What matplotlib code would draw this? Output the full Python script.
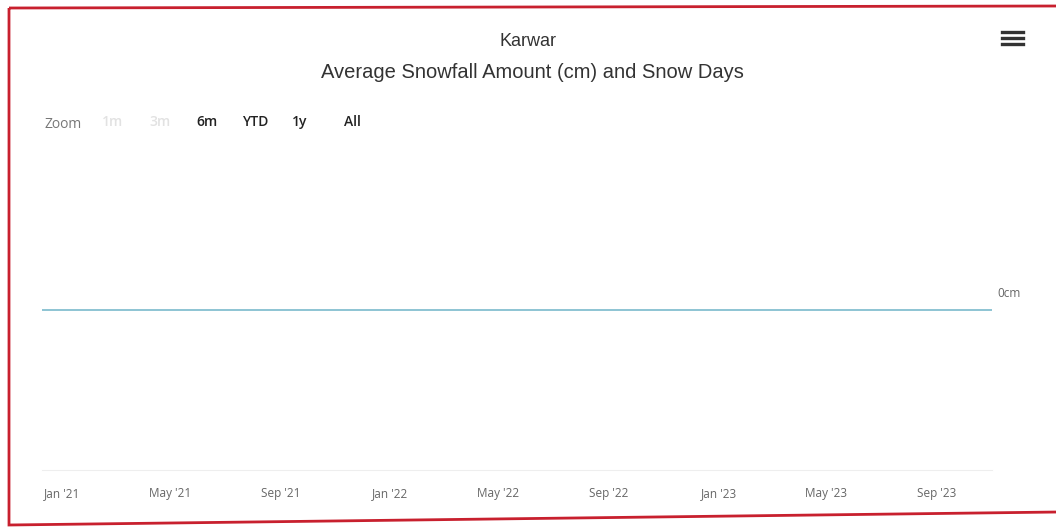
import matplotlib.pyplot as plt
from matplotlib.patches import Polygon
from matplotlib.lines import Line2D
import pandas as pd

# -------------------- data --------------------
months = pd.date_range("2020-12-01", "2023-11-01", freq="MS")
snowfall_cm = [0] * len(months)
tick_dates = pd.date_range("2021-01-01", "2023-09-01", freq="4MS")
tick_labels = ["Jan '21", "May '21", "Sep '21", "Jan '22", "May '22",
               "Sep '22", "Jan '23", "May '23", "Sep '23"]
zoom_buttons = ["1m", "3m", "6m", "YTD", "1y", "All"]
zoom_x = [113, 160, 207, 255, 300, 352]
zoom_enabled = [False, False, True, True, True, True]

W, H = 1056, 531
fig = plt.figure(figsize=(W / 100, H / 100), dpi=100)
fig.patch.set_facecolor("white")

def px(x, y):
    return x / W, 1 - y / H

# plot area
left, right, top, bottom = 42, 992, 150, 470
ax = fig.add_axes([left / W, 1 - bottom / H, (right - left) / W, (bottom - top) / H])
ax.plot(months, snowfall_cm, color="#6fb4c8", lw=1.1)
ax.set_ylim(-1, 1)
ax.set_xlim(pd.Timestamp("2020-12-10"), months[-1])
ax.set_yticks([])
ax.set_xticks(tick_dates)
ax.set_xticklabels(tick_labels, family="Open Sans", fontsize=8.5, color="#666666")
ax.tick_params(axis="x", length=0, pad=12)
for s in ["top", "left", "right"]:
    ax.spines[s].set_visible(False)
ax.spines["bottom"].set_color("#eeeeee")
fig.text(*px(997, 300), "0cm", ha="left", va="bottom",
         family="Open Sans", fontsize=8.5, color="#666666")

# titles
fig.text(*px(528, 42), "Karwar", ha="center", va="center",
         family="Liberation Sans", fontsize=13, color="#333333")
fig.text(*px(532, 72), "Average Snowfall Amount (cm) and Snow Days", ha="center", va="center",
         family="Liberation Sans", fontsize=14.5, color="#333333")

# range selector
fig.text(*px(63, 125), "Zoom", ha="center", va="center", family="Open Sans",
         fontsize=10, color="#777777")
for lab, x, on in zip(zoom_buttons, zoom_x, zoom_enabled):
    fig.text(*px(x, 122), lab, ha="center", va="center", family="Open Sans",
             fontsize=10, fontweight="semibold", color="#222222" if on else "#e2e2e2")

# menu icon
for y in [32, 38, 44]:
    fig.add_artist(Line2D([1002 / W, 1023 / W], [1 - y / H, 1 - y / H],
                          color="#333333", lw=2.4, transform=fig.transFigure))

# red frame
frame = Polygon([px(9, 8), px(1058, 6), px(1058, 512), px(9, 525)], closed=True,
                fill=False, edgecolor="#c8202e", lw=2, transform=fig.transFigure)
fig.add_artist(frame)

fig.savefig("out.png", dpi=100)
